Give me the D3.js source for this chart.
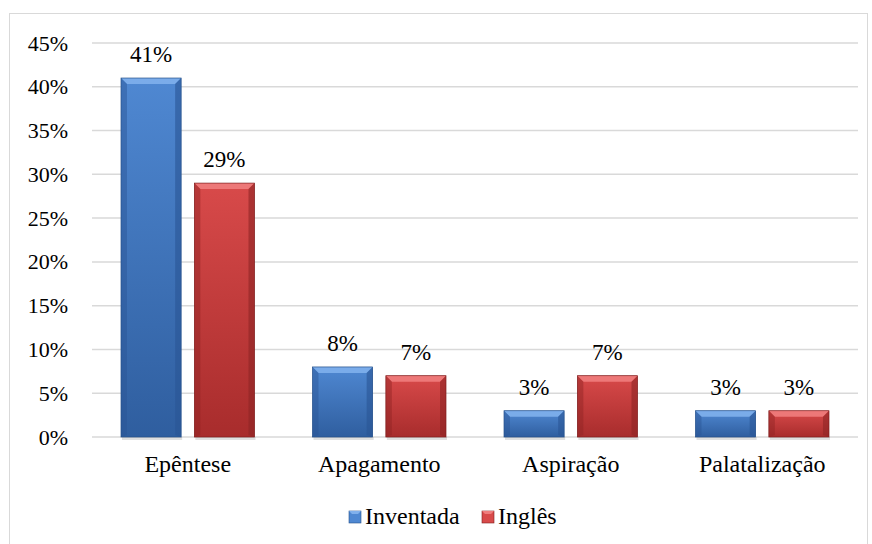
<!DOCTYPE html>
<html>
<head>
<meta charset="utf-8">
<script src="https://cdn.jsdelivr.net/npm/d3@7"></script>
</head>
<body style="margin:0">
<script>
const categories = ["Epêntese", "Apagamento", "Aspiração", "Palatalização"];
const seriesNames = ["Inventada", "Inglês"];
const inventada = [41, 8, 3, 3];
const ingles = [29, 7, 7, 3];
const yTicks = [0, 5, 10, 15, 20, 25, 30, 35, 40, 45];

const W = 872, H = 544;
const fontNames = ["Liberation Serif"];
const plot = { left: 92, right: 858, top: 43, bottom: 437 };
const palettes = {
  Inventada: { top: "#4f88d2", bottom: "#2f5e9f", light: "#80b0ec", side: "#2a5594", edge: "#25508a" },
  "Inglês": { top: "#d84a4a", bottom: "#a82c2c", light: "#ef7d7d", side: "#8e2424", edge: "#7f1f1f" }
};

// serif text with a given size
const serif = (sel, size) => sel
  .attr("font-size", size)
  .style("font-family", () => `"${fontNames[0]}"`)
  .attr("fill", "#000");

const svg = d3.select("body").append("svg")
  .attr("width", W).attr("height", H);

svg.append("rect")
  .attr("x", 9.5).attr("y", 13.5)
  .attr("width", 858).attr("height", 540)
  .attr("fill", "#fff").attr("stroke", "#d9d9d9").attr("stroke-width", 1);

const x0 = d3.scaleBand().domain(categories).range([plot.left, plot.right]);
const x1 = d3.scaleBand().domain(seriesNames).range([29, x0.bandwidth() - 29]).paddingInner(0.18);
const y = d3.scaleLinear().domain([0, 45]).range([plot.bottom, plot.top]);

// gridlines
svg.append("g").selectAll("line").data(yTicks).join("line")
  .attr("x1", plot.left).attr("x2", plot.right)
  .attr("y1", d => y(d)).attr("y2", d => y(d))
  .attr("stroke", "#d9d9d9").attr("stroke-width", 1.5);

// gradients
const defs = svg.append("defs");
seriesNames.forEach((s, i) => {
  const p = palettes[s];
  const g = defs.append("linearGradient").attr("id", "face" + i).attr("x1", 0).attr("x2", 0).attr("y1", 0).attr("y2", 1);
  g.append("stop").attr("offset", "0%").attr("stop-color", p.top);
  g.append("stop").attr("offset", "100%").attr("stop-color", p.bottom);
});

const series = [inventada, ingles];
const bars = [];
categories.forEach((c, ci) => {
  seriesNames.forEach((s, si) => bars.push({ c, s, si, v: series[si][ci] }));
});

const bev = 6;
const bg = svg.append("g").selectAll("g").data(bars).join("g")
  .attr("transform", d => `translate(${x0(d.c) + x1(d.s)},${y(d.v)})`);

bg.each(function (d) {
  const g = d3.select(this);
  const w = x1.bandwidth(), h = y(0) - y(d.v);
  const p = palettes[d.s];
  // soft shadow under the bar
  g.append("rect").attr("x", 1).attr("y", h).attr("width", w).attr("height", 3)
    .attr("fill", "#000").attr("opacity", 0.12);
  g.append("rect").attr("width", w).attr("height", h).attr("fill", `url(#face${d.si})`);
  // top bevel
  g.append("path").attr("d", `M0,0L${w},0L${w - bev},${bev}L${bev},${bev}Z`).attr("fill", p.light).attr("opacity", 0.9);
  // side bevels
  g.append("path").attr("d", `M0,0L${bev},${bev}L${bev},${h - 2}L0,${h}Z`).attr("fill", p.side).attr("opacity", 0.45);
  g.append("path").attr("d", `M${w},0L${w - bev},${bev}L${w - bev},${h - 2}L${w},${h}Z`).attr("fill", p.side).attr("opacity", 0.6);
  g.append("rect").attr("width", w).attr("height", h).attr("fill", "none")
    .attr("stroke", p.edge).attr("stroke-width", 0.7);
});

// axes
const yAxis = d3.axisLeft(y).tickValues(yTicks).tickFormat(d => d + "%").tickSize(0).tickPadding(0);
const ya = svg.append("g").attr("transform", "translate(68,0)").call(yAxis);
ya.select(".domain").remove();
ya.attr("font-family", null).attr("font-size", null);
serif(ya.selectAll("text"), 22).attr("dy", "0.32em");

const xAxis = d3.axisBottom(x0).tickSize(0).tickPadding(0);
const xa = svg.append("g").attr("transform", "translate(0,472)").call(xAxis);
xa.select(".domain").remove();
xa.attr("font-family", null).attr("font-size", null);
serif(xa.selectAll("text"), 24).attr("y", 0).attr("dy", 0);

// value labels
serif(svg.append("g").selectAll("text").data(bars).join("text")
  .attr("x", d => x0(d.c) + x1(d.s) + x1.bandwidth() / 2)
  .attr("y", d => y(d.v) - 16)
  .attr("text-anchor", "middle")
  .text(d => d.v + "%"), 23);

// legend
const legend = svg.append("g");
const legendItems = [{ s: "Inventada", x: 349 }, { s: "Inglês", x: 482 }];
legendItems.forEach(it => {
  const p = palettes[it.s];
  const g = legend.append("g").attr("transform", `translate(${it.x},511)`);
  g.append("rect").attr("width", 12).attr("height", 12).attr("fill", p.top).attr("stroke", p.edge).attr("stroke-width", 0.6);
  g.append("path").attr("d", "M0,0L12,0L9,3L3,3Z").attr("fill", p.light);
  serif(g.append("text").attr("x", 16).attr("y", 13), 24).text(it.s);
});
</script>
</body>
</html>
